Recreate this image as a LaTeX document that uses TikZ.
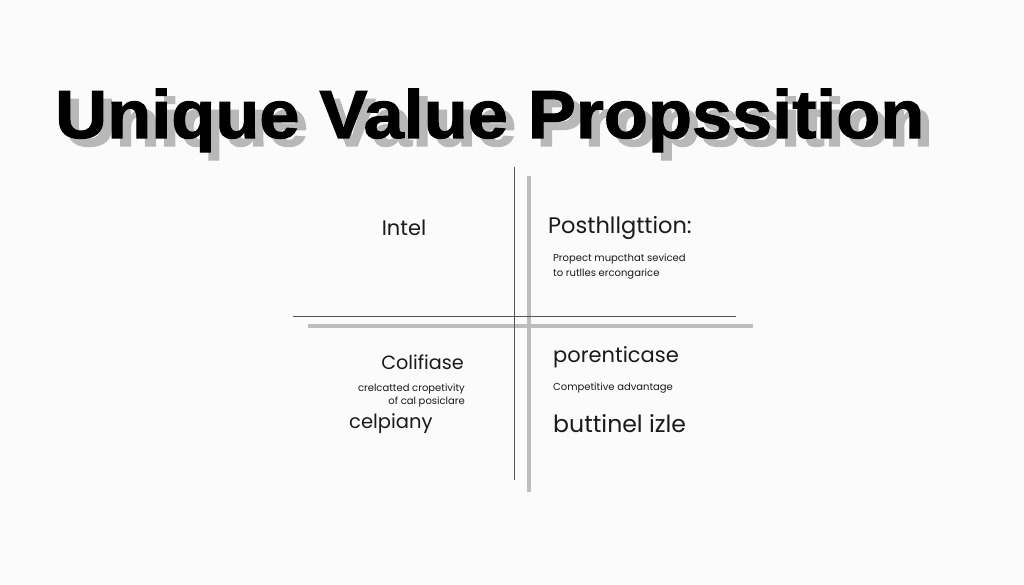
\documentclass[tikz,border=0pt]{standalone}
\usepackage{fontspec}
\setmainfont{Poppins}
\newfontfamily\titlefont[BoldFeatures={FakeBold=1.6}]{Liberation Sans}
\definecolor{bgc}{HTML}{FBFBFB}
\definecolor{shadowc}{HTML}{B8B8B8}
\definecolor{thickc}{HTML}{BDBDBD}
\definecolor{thinc}{HTML}{555555}
\definecolor{txtc}{HTML}{1A1A1A}
\newcommand{\shadowtext}[1]{\rlap{\hspace{8pt}\raisebox{-8pt}{\textcolor{shadowc}{#1}}}#1}
\tikzset{
  big/.style={inner sep=0pt, text=txtc, font=\fontsize{21}{24}\selectfont},
  small/.style={inner sep=0pt, text=txtc, font=\fontsize{10}{12}\selectfont},
  thinline/.style={draw=thinc, line width=0.9pt},
  thickline/.style={draw=thickc, line width=3.2pt},
  ttl/.style={inner sep=0pt, anchor=base west, font=\titlefont\bfseries\fontsize{68}{70}\selectfont}
}
\begin{document}
\begin{tikzpicture}[x=1pt,y=-1pt]
\fill[bgc] (0,0) rectangle (1024,585);
\useasboundingbox (0,0) rectangle (1024,585);
% title with shadow
\node[ttl, text=black] (title) at (55,138) {\scalebox{1.06}[1.0]{\shadowtext{Unique Value Propssition}}};
% axes
\coordinate (vt1) at (514,167); \coordinate (vb1) at (514,480);
\coordinate (vt2) at (529,176); \coordinate (vb2) at (529,492);
\coordinate (hl1) at (293,316); \coordinate (hr1) at (736,316);
\coordinate (hl2) at (308,326); \coordinate (hr2) at (753,326);
\draw[thickline] (vt2) -- (vb2);
\draw[thickline] (hl2) -- (hr2);
\draw[thinline] (vt1) -- (vb1);
\draw[thinline] (hl1) -- (hr1);
% top left
\node[big] (intel) at (404,228) {Intel};
% top right
\node[big, anchor=west, font=\fontsize{22.5}{24}\selectfont] (posth) at (548,228) {Posthllgttion:};
\node[small, anchor=west] (prop1) at (553,259) {Propect mupcthat seviced};
\node[small, anchor=west] (prop2) at (553,274) {to rutlles ercongarice};
% bottom left
\node[big, anchor=east, font=\fontsize{19.2}{22}\selectfont] (coli) at (464,362) {Colifiase};
\node[small, anchor=east] (crel1) at (465,389) {crelcatted cropetivity};
\node[small, anchor=east] (crel2) at (465,402) {of cal posiclare};
\node[big, anchor=west, font=\fontsize{19.5}{22}\selectfont] (celp) at (349,424) {celpiany};
% bottom right
\node[big, anchor=west] (poren) at (553,357) {porenticase};
\node[small, anchor=west] (comp) at (553,388) {Competitive advantage};
\node[big, anchor=west, font=\fontsize{23.6}{26}\selectfont] (butt) at (553,424) {buttinel izle};
\end{tikzpicture}
\end{document}
